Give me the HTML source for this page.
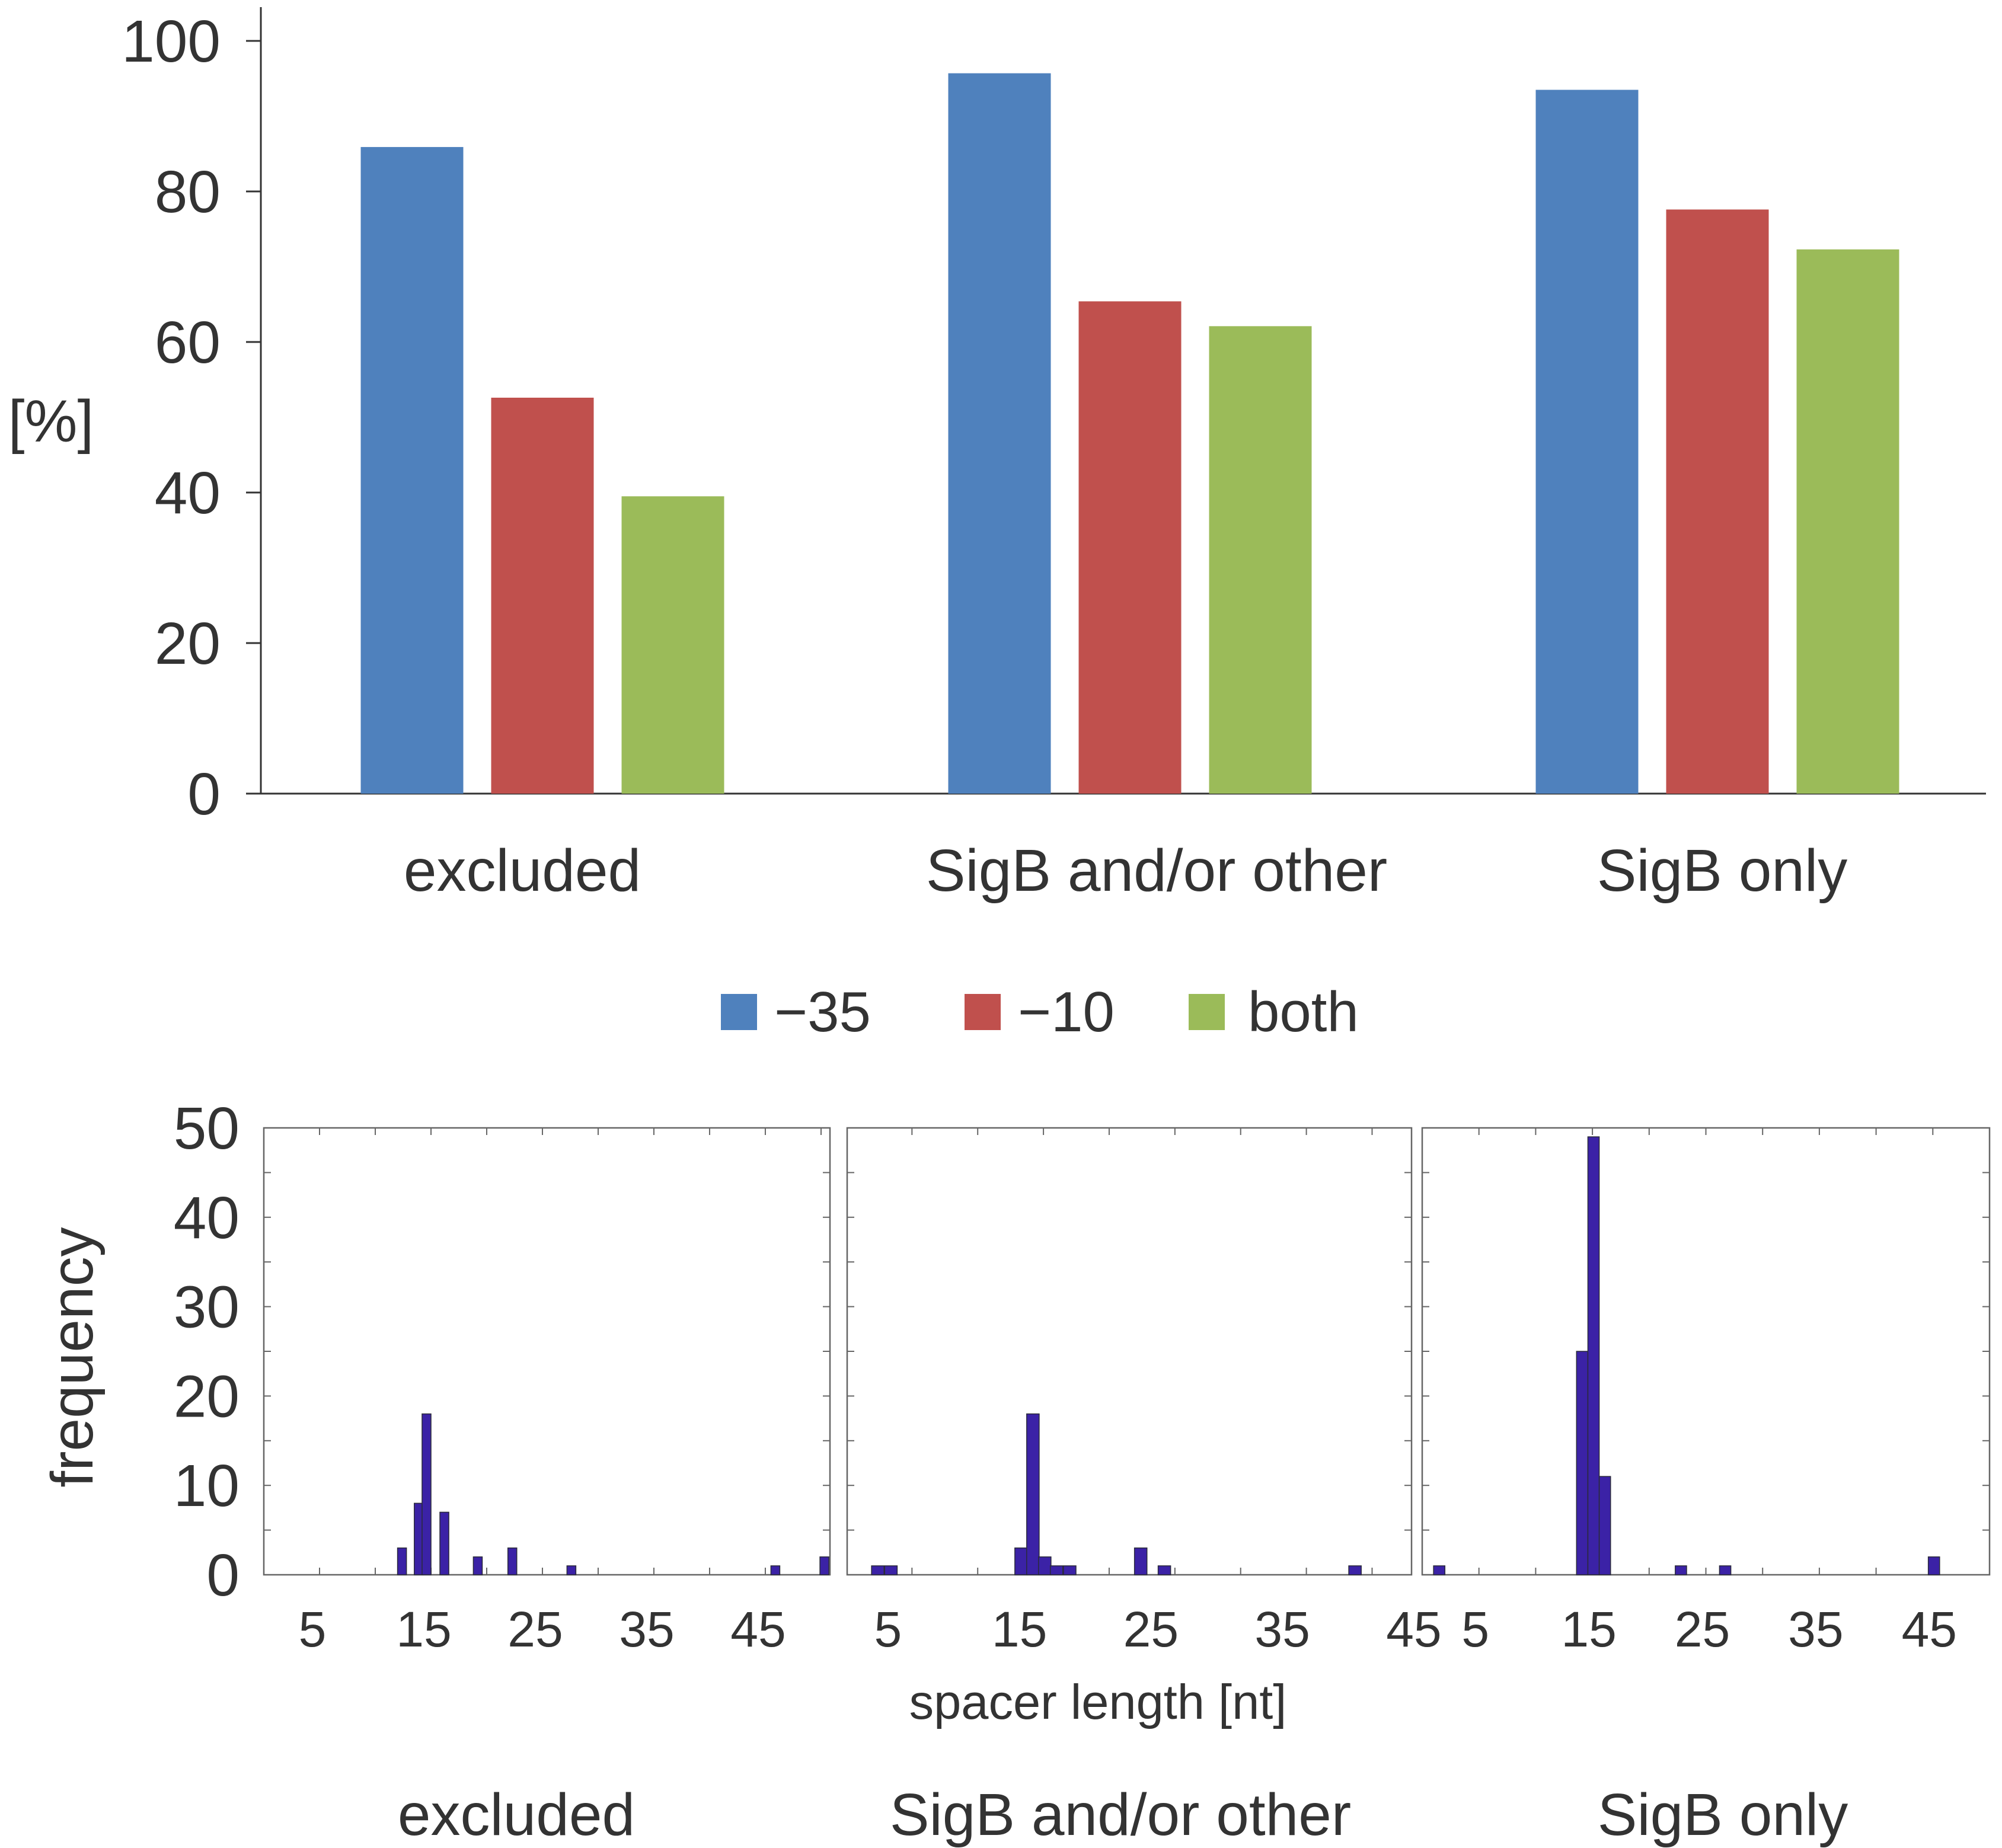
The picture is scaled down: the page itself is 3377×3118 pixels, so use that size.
<!DOCTYPE html>
<html><head><meta charset="utf-8">
<style>
html,body{margin:0;padding:0;background:#fff;}
svg{display:block;font-family:"Liberation Sans",Arial,sans-serif;}
</style></head>
<body>
<svg id="fig" width="3377" height="3118" viewBox="0 0 3377 3118" xmlns="http://www.w3.org/2000/svg">
<g id="topchart"></g>
<g id="legend"></g>
<g id="bottom"></g>
</svg>
<script>
const NS="http://www.w3.org/2000/svg";
// ---- top chart data ----
const categories=["excluded","SigB and/or other","SigB only"];
const seriesNames=["−35","−10","both"];
const seriesColors=["#4f81bd","#c0504d","#9bbb59"];
const minus35=[85.9,95.7,93.5];
const minus10=[52.6,65.4,77.6];
const both=[39.5,62.1,72.3];
const yTicks=[0,20,40,60,80,100];
// ---- histogram data ----
const histTitles=["excluded","SigB and/or other","SigB only"];
const histXLabels=[5,15,25,35,45];
const histYTicks=[0,10,20,30,40,50];
const excludedLen=[12.4,13.9,14.6,16.2,19.2,22.3,27.6,45.9,50.3];
const excludedFreq=[3,8,18,7,2,3,1,1,2];
const otherLen=[4.9,5.9,15.8,16.7,17.6,18.5,19.5,24.9,26.7,41.2];
const otherFreq=[1,1,3,18,2,1,1,3,1,1];
const onlyLen=[1.5,14.1,15.1,16.1,22.8,26.7,45.1];
const onlyFreq=[1,25,49,11,1,1,2];

function el(tag,attrs,parent,text){const e=document.createElementNS(NS,tag);for(const k in attrs)e.setAttribute(k,attrs[k]);if(text!==undefined)e.textContent=text;parent.appendChild(e);return e;}

// ---- top chart ----
const topG=document.getElementById('topchart');
const Y0=1339,Y100=69,AX=440;
const ty=v=>Y0-(v/100)*(Y0-Y100);
const groupCenter=i=>915+i*991;
const barW=173,barStep=220;
const axY=el('line',{x1:AX,y1:12,x2:AX,y2:Y0,stroke:'#333','stroke-width':3},topG);


const axX=el('line',{x1:AX,y1:Y0,x2:3350,y2:Y0,stroke:'#333','stroke-width':3},topG);


yTicks.forEach(v=>{
  const t=el('line',{x1:415,y1:ty(v),x2:AX,y2:ty(v),stroke:'#333','stroke-width':3},topG);
  
  
  const l=el('text',{x:372,y:ty(v)+35,'text-anchor':'end','font-size':100,fill:'#333'},topG,String(v));
  
  
});
const yl=el('text',{x:86,y:745,'text-anchor':'middle','font-size':100,fill:'#333'},topG,'[%]');


const series=[minus35,minus10,both];
categories.forEach((c,i)=>{
  series.forEach((s,j)=>{
    const x=groupCenter(i)+(j-1)*barStep-barW/2;
    const r=el('rect',{x:x,y:ty(s[i]),width:barW,height:Y0-ty(s[i]),fill:seriesColors[j]},topG);
    
    
  });
  const t=el('text',{x:groupCenter(i)-30+[-4,75,38][i],y:1503,'text-anchor':'middle','font-size':100,fill:'#333'},topG,c);
  
  
});
// ---- legend ----
const lg=document.getElementById('legend');
const lgX=[1216,1627,2005];
seriesNames.forEach((n,j)=>{
  const r=el('rect',{x:lgX[j],y:1677,width:61,height:61,fill:seriesColors[j]},lg);
  
  
  const t=el('text',{x:lgX[j]+(j==2?100:90),y:1740,'font-size':96,fill:'#333'},lg,n);
  
  
});
// ---- histograms ----
const bot=document.getElementById('bottom');
const HT=1903,HB=2657;
const hy=v=>HB-(v/50)*(HB-HT);
const panels=[
 {x0:445,x1:1400,d0:0,d1:50.8,lens:excludedLen,freqs:excludedFreq,bw:0.8,ticks:[5,10,15,20,25,30,35,40,45,50],lblShift:-12},
 {x0:1429,x1:2381,d0:2.57,d1:45.5,lens:otherLen,freqs:otherFreq,bw:0.95,ticks:[7.5,12.5,17.5,22.5,27.5,32.5,37.5,42.5],lblShift:15},
 {x0:2399,x1:3356,d0:0,d1:50,lens:onlyLen,freqs:onlyFreq,bw:1,ticks:[5,10,15,20,25,30,35,40,45],lblShift:-6}
];
panels.forEach((p,pi)=>{
  const g=el('g',{},bot);
  
  
  const sx=v=>p.x0+(v-p.d0)/(p.d1-p.d0)*(p.x1-p.x0);
  const fr=el('rect',{x:p.x0,y:HT,width:p.x1-p.x0,height:HB-HT,fill:'#fff',stroke:'#666','stroke-width':2.5},g);
  
  
  for(let v=5;v<50;v+=5){
    const a=el('line',{x1:p.x0,y1:hy(v),x2:p.x0+12,y2:hy(v),stroke:'#666','stroke-width':2},g);
    
    
    const b=el('line',{x1:p.x1-12,y1:hy(v),x2:p.x1,y2:hy(v),stroke:'#666','stroke-width':2},g);
    
    
  }
  p.ticks.forEach(v=>{
    const a=el('line',{x1:sx(v),y1:HT,x2:sx(v),y2:HT+12,stroke:'#666','stroke-width':2},g);
    
    
    const b=el('line',{x1:sx(v),y1:HB-12,x2:sx(v),y2:HB,stroke:'#666','stroke-width':2},g);
    
    
  });
  p.lens.forEach((L,k)=>{
    const x=sx(L-p.bw/2),w=sx(L+p.bw/2)-x;
    const r=el('rect',{x:x,y:hy(p.freqs[k]),width:w,height:HB-hy(p.freqs[k]),fill:'#3b22a6',stroke:'#2a2a3a','stroke-width':1.5},g);
    
    
  });
  histXLabels.forEach(v=>{
    const t=el('text',{x:sx(v)+p.lblShift,y:2778,'text-anchor':'middle','font-size':84,fill:'#333'},g,String(v));
    
    
  });
  const tt=el('text',{x:[871,1890,2906][pi],y:3096,'text-anchor':'middle','font-size':100,fill:'#333'},g,histTitles[pi]);
  
  
});
histYTicks.forEach(v=>{
  const t=el('text',{x:404,y:hy(v)+35,'text-anchor':'end','font-size':100,fill:'#333'},bot,String(v));
  
  
});
const fy=el('text',{x:0,y:0,'text-anchor':'middle','font-size':100,fill:'#333',transform:'translate(156,2290) rotate(-90)'},bot,'frequency');


const sl=el('text',{x:1852,y:2900,'text-anchor':'middle','font-size':83,fill:'#333'},bot,'spacer length [nt]');


</script>
</body></html>
